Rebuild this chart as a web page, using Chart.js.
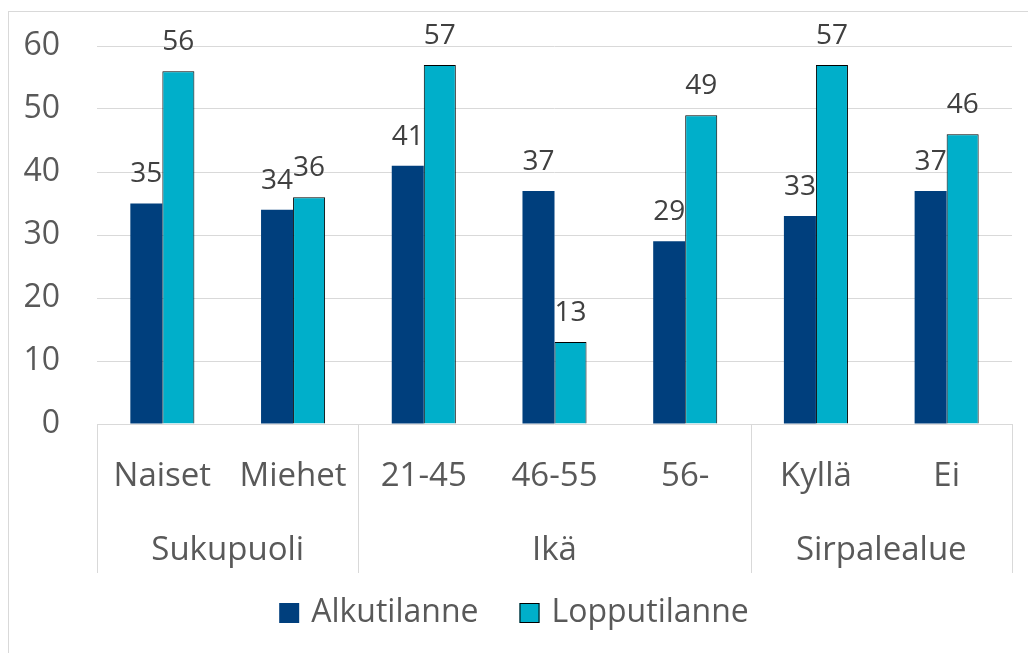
<!DOCTYPE html>
<html>
<head>
<meta charset="utf-8">
<script src="https://cdn.jsdelivr.net/npm/chart.js@4"></script>
<style>
  html, body { margin: 0; padding: 0; background: #fff; }
  #wrap { width: 1028px; height: 653px; }
</style>
</head>
<body>
<div id="wrap"><canvas id="chart"></canvas></div>
<script>
// Categories and groups
const categories = ['Naiset', 'Miehet', '21-45', '46-55', '56-', 'Kyllä', 'Ei'];
const groups = ['Sukupuoli', 'Ikä', 'Sirpalealue'];
const groupSizes = [2, 3, 2];

// Series values
const alkutilanne = [35, 34, 41, 37, 29, 33, 37];
const lopputilanne = [56, 36, 57, 13, 49, 57, 46];

const yTicks = [0, 10, 20, 30, 40, 50, 60];

const colors = {
    dark: '#003F7D',
    light: '#00AFCA',
    grid: '#D9D9D9',
    text: '#595959',
    label: '#404040'
};

const FONT = "'Open Sans', 'Noto Sans', sans-serif";

// Value labels above bars
const valueLabels = {
    id: 'valueLabels',
    afterDatasetsDraw(chart) {
        const ctx = chart.ctx;
        ctx.save();
        ctx.font = `28px ${FONT}`;
        ctx.fillStyle = colors.label;
        ctx.textAlign = 'center';
        ctx.textBaseline = 'middle';
        chart.data.datasets.forEach((ds, i) => {
            chart.getDatasetMeta(i).data.forEach((bar, j) => {
                ctx.fillText(ds.data[j], bar.x, bar.y - 29);
            });
        });
        ctx.restore();
    }
};

// Two-level category axis, frame and legend
const groupedAxis = {
    id: 'groupedAxis',
    afterDraw(chart) {
        const ctx = chart.ctx;
        const x = chart.scales.x;
        const area = chart.chartArea;
        const half = (x.getPixelForValue(1) - x.getPixelForValue(0)) / 2;
        ctx.save();

        // outer frame
        ctx.strokeStyle = colors.grid;
        ctx.lineWidth = 1;
        ctx.strokeRect(8.5, 11.5, 1100, 700);

        // separators
        let idx = 0;
        const bounds = [0];
        groupSizes.forEach(n => { idx += n; bounds.push(idx); });
        bounds.forEach(b => {
            const px = Math.round(x.getPixelForValue(b) - half) + 0.5;
            ctx.beginPath();
            ctx.moveTo(px, area.bottom);
            ctx.lineTo(px, 573);
            ctx.stroke();
        });

        // category labels
        ctx.font = `33px ${FONT}`;
        ctx.fillStyle = colors.text;
        ctx.textAlign = 'center';
        ctx.textBaseline = 'middle';
        categories.forEach((c, i) => {
            ctx.fillText(c, x.getPixelForValue(i), 477);
        });

        // group labels
        groups.forEach((g, i) => {
            const mid = (x.getPixelForValue(bounds[i]) + x.getPixelForValue(bounds[i + 1] - 1)) / 2;
            ctx.fillText(g, mid, 551);
        });

        // legend
        ctx.font = `32px ${FONT}`;
        const items = chart.data.datasets.map(ds => ({
            text: ds.label, fill: ds.backgroundColor, border: ds.borderWidth ? ds.borderColor : null
        }));
        const box = 20, gap = 12, spacing = 41;
        const widths = items.map(it => box + gap + ctx.measureText(it.text).width);
        const total = widths.reduce((a, b) => a + b, 0) + spacing * (items.length - 1);
        let lx = (chart.width - total) / 2;
        const ly = 613;
        ctx.textAlign = 'left';
        items.forEach((it, i) => {
            ctx.fillStyle = it.fill;
            ctx.fillRect(lx, ly - box / 2, box, box);
            if (it.border) {
                ctx.strokeStyle = it.border;
                ctx.lineWidth = 1;
                ctx.strokeRect(lx + 0.5, ly - box / 2 + 0.5, box - 1, box - 1);
            }
            ctx.fillStyle = colors.text;
            ctx.fillText(it.text, lx + box + gap, ly);
            lx += widths[i] + spacing;
        });
        ctx.restore();
    }
};

new Chart(document.getElementById('chart'), {
    type: 'bar',
    data: {
        labels: categories,
        datasets: [
            {
                label: 'Alkutilanne',
                data: alkutilanne,
                backgroundColor: colors.dark,
                borderWidth: 0
            },
            {
                label: 'Lopputilanne',
                data: lopputilanne,
                backgroundColor: colors.light,
                borderColor: '#000000',
                borderWidth: 1
            }
        ]
    },
    options: {
        responsive: true,
        maintainAspectRatio: false,
        animation: false,
        categoryPercentage: 0.49,
        barPercentage: 1,
        layout: { padding: { top: 46, right: 16, bottom: 229, left: 0 } },
        plugins: {
            legend: { display: false },
            tooltip: { enabled: false }
        },
        scales: {
            x: {
                display: false
            },
            y: {
                min: 0,
                max: 60,
                afterBuildTicks: scale => { scale.ticks = yTicks.map(v => ({ value: v })); },
                afterFit: scale => {
                    scale.width = 97;
                    scale.paddingTop = 0;
                    scale.paddingBottom = 0;
                },
                border: { display: false },
                grid: { color: colors.grid, lineWidth: 1, drawTicks: false },
                ticks: {
                    padding: 37,
                    color: colors.text,
                    font: { family: FONT, size: 32 }
                }
            }
        }
    },
    plugins: [valueLabels, groupedAxis]
});
</script>
</body>
</html>
